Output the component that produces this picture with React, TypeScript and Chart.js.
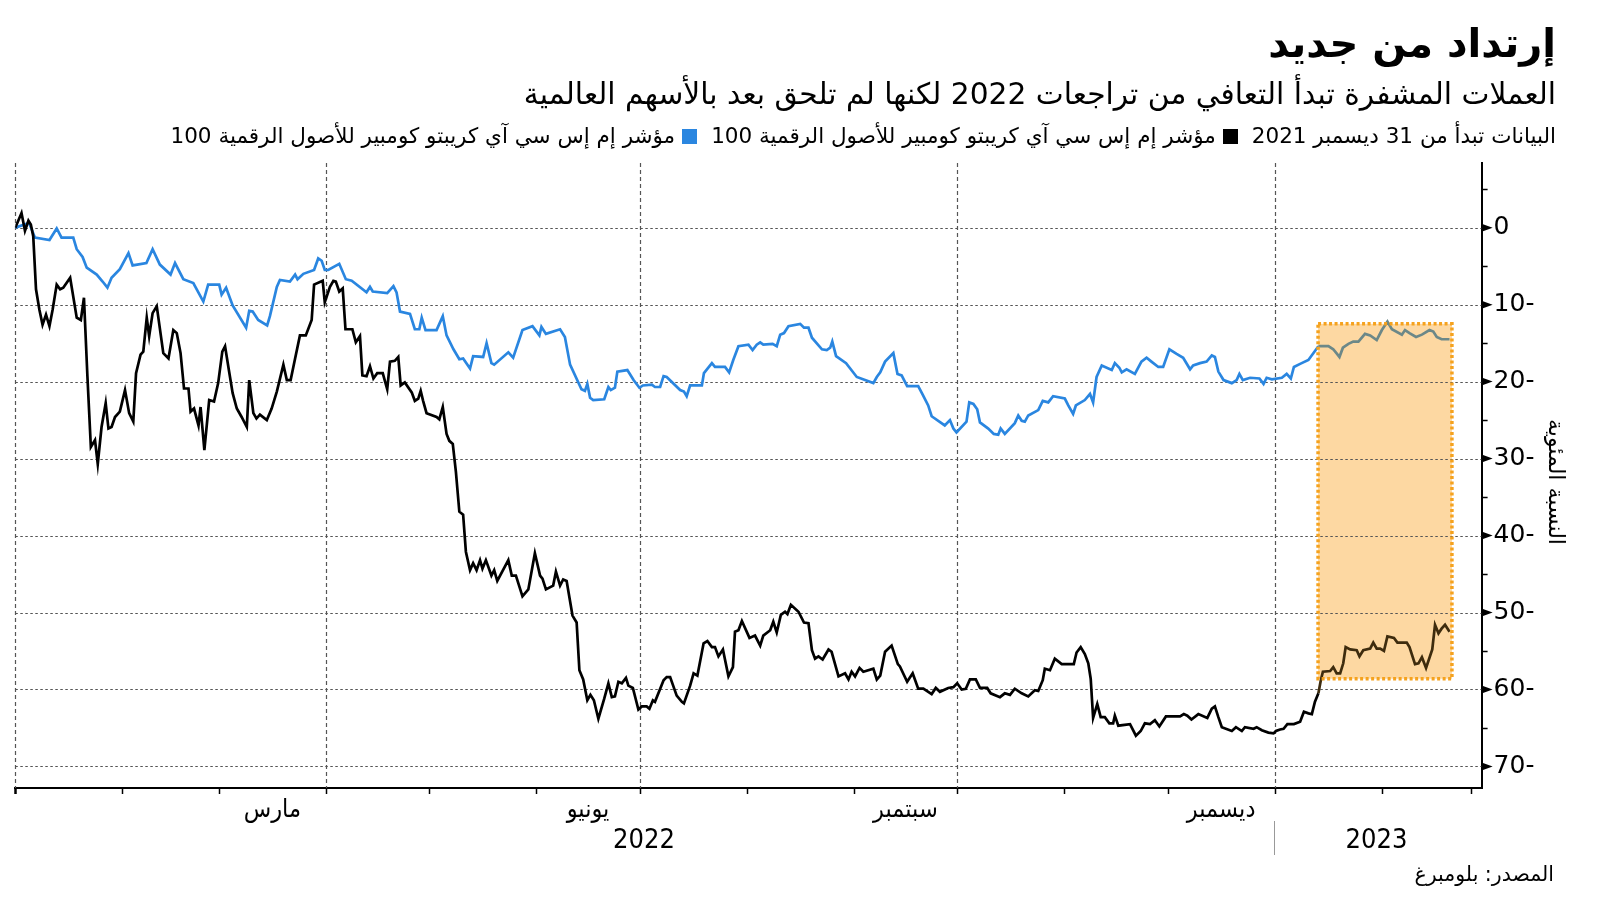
import React, { useEffect, useRef } from "react";
import { Chart, registerables } from "chart.js";

Chart.register(...registerables);

// Day offsets from 1 Jan 2022, value = % change since 31 Dec 2021
const cryptoIndex: [number, number][] = [
  [0, 0], [1.8, 1.9], [2.8, -0.4], [3.8, 0.9], [4.5, 0.4], [5.2, -1.1], [6, -8.0], [7, -10.7], [7.9, -12.6],
  [8.9, -11.3], [9.9, -12.8], [10.8, -10.7], [12, -7.4], [13, -8.0], [13.9, -7.8], [15.9, -6.5], [17.8, -11.7],
  [19, -12.0], [19.9, -9.1], [20.9, -19.3], [21.9, -28.5], [23.1, -27.6], [23.9, -30.7], [25, -25.9],
  [26.2, -22.8], [27, -26.1], [27.9, -25.9], [28.9, -24.6], [30.3, -23.9], [31.8, -21.1], [33, -24.1],
  [34.2, -25.2], [35, -18.9], [36.3, -16.5], [37.1, -16.1], [38.1, -11.7], [38.8, -14.1], [39.8, -11.1],
  [41, -10.2], [42.9, -16.3], [44.4, -17.0], [45.8, -13.3], [46.8, -13.7], [47.9, -16.3], [48.9, -20.9],
  [50.2, -20.9], [50.8, -23.9], [51.8, -23.5], [53.1, -25.7], [53.7, -23.3], [54.8, -28.9], [56.2, -22.4],
  [57.6, -22.6], [58.8, -20.2], [60, -16.1], [60.8, -15.4], [61.9, -18.5], [63, -21.5], [64.2, -23.5],
  [65.6, -24.6], [67.1, -25.9], [67.8, -19.8], [69, -24.1], [69.9, -24.8], [70.9, -24.3], [72.9, -25.0],
  [74.3, -23.5], [75.8, -21.3], [77.7, -17.8], [78.7, -19.8], [79.8, -19.8], [81.1, -17.0], [82.5, -14.0],
  [84.2, -14.0], [85.9, -12.0], [86.6, -7.4], [89.1, -6.9], [89.7, -9.7], [91.2, -7.7], [92.2, -6.9],
  [92.9, -7.0], [93.9, -8.3], [94.9, -7.9], [95.7, -13.2], [97.7, -13.2], [98.7, -14.9], [99.9, -14.1],
  [100.6, -19.2], [101.8, -19.3], [102.8, -18.0], [103.8, -19.6], [104.9, -18.9], [106.5, -18.9],
  [107.8, -21.0], [108.6, -17.4], [110, -17.3], [111, -16.8], [111.7, -20.5], [112.9, -20.1], [114.9, -21.4],
  [115.8, -22.5], [116.8, -22.2], [117.5, -21.2], [118.2, -22.5], [119.2, -24.1], [122.1, -24.6],
  [122.9, -24.9], [123.9, -23.3], [125, -26.8], [125.8, -27.7], [126.8, -28.1], [127.7, -31.7],
  [128.7, -36.9], [129.8, -37.3], [130.6, -42.1], [131.8, -44.5], [132.7, -43.6], [133.7, -44.5],
  [134.7, -43.2], [135.4, -44.3], [136.4, -43.2], [138, -45.2], [138.8, -44.5], [139.7, -45.9],
  [142.9, -43.2], [143.9, -45.2], [145.1, -45.2], [147, -47.9], [148.7, -47.0], [150.6, -42.3],
  [152.1, -45.2], [152.8, -45.6], [153.8, -47.0], [155.9, -46.5], [156.7, -44.7], [157.9, -46.5],
  [158.8, -45.7], [159.8, -45.9], [161.5, -50.4], [162.7, -51.3], [163.5, -57.5], [164.6, -58.7],
  [165.8, -61.4], [166.7, -60.7], [167.7, -61.4], [169, -63.8], [170.7, -61.2], [171.9, -59.2],
  [172.9, -61.0], [173.8, -60.9], [174.8, -59.0], [175.8, -59.2], [177, -58.5], [177.7, -59.5], [179, -59.8],
  [180.6, -62.6], [181.6, -62.2], [183, -62.2], [183.8, -62.5], [184.8, -61.4], [185.4, -61.6],
  [187.9, -58.8], [188.8, -58.4], [189.8, -58.4], [191.7, -60.8], [193.2, -61.6], [193.8, -61.8],
  [195.6, -59.5], [196.6, -57.9], [197.7, -58.2], [199.5, -54.0], [200.6, -53.7], [201.9, -54.5],
  [202.8, -54.5], [203.8, -55.7], [205.1, -54.8], [206.7, -58.3], [208, -57.1], [208.6, -52.5],
  [209.6, -52.3], [210.6, -51.1], [212.8, -53.3], [214.4, -53.0], [215.9, -54.3], [216.8, -53.0],
  [218.8, -52.3], [219.7, -51.2], [220.7, -52.6], [221.9, -50.3], [223.1, -49.9], [223.8, -50.2],
  [224.8, -49.0], [227, -49.9], [228.6, -51.3], [229.9, -51.4], [230.9, -54.9], [231.8, -56.0],
  [232.8, -55.7], [234, -56.1], [235.7, -54.8], [236.6, -55.1], [238.6, -58.3], [240.5, -57.9],
  [241.5, -58.7], [242.4, -57.7], [243.4, -58.3], [244.7, -57.2], [245.8, -57.7], [248.7, -57.3],
  [249.7, -58.7], [250.7, -58.2], [252.1, -55.1], [254, -54.3], [255.8, -56.7], [256.4, -57.0],
  [258.5, -59.0], [260.1, -57.9], [261.7, -59.9], [263.2, -59.9], [265.6, -60.6], [266.8, -59.8],
  [268, -60.3], [270.4, -59.8], [271.9, -59.7], [273, -59.2], [274.3, -60.0], [275.5, -59.9], [276.7, -58.7],
  [278.4, -58.7], [279.6, -59.8], [281.7, -59.8], [282.7, -60.5], [285.4, -61.0], [286.8, -60.5],
  [288.3, -60.7], [289.7, -59.9], [291.7, -60.5], [293.6, -60.9], [295.5, -60.1], [296.5, -60.2],
  [297.8, -58.8], [298.4, -57.3], [299.9, -57.5], [301.3, -56.0], [303.3, -56.7], [306.8, -56.7],
  [307.6, -55.2], [308.8, -54.5], [310, -55.4], [311, -56.6], [311.7, -58.6], [312.4, -63.7], [313.6, -61.9],
  [314.6, -63.6], [315.8, -63.6], [317.1, -64.4], [318.2, -64.4], [318.7, -63.4], [319.7, -64.7],
  [323.1, -64.5], [324.8, -66.0], [326.2, -65.4], [327.4, -64.4], [328.9, -64.5], [330.3, -64.0],
  [331.6, -64.8], [333.5, -63.5], [337.6, -63.5], [338.7, -63.2], [339.7, -63.4], [340.9, -63.9],
  [342.9, -63.2], [345.5, -63.7], [346.8, -62.5], [347.7, -62.2], [348.7, -63.6], [349.7, -64.9],
  [352.6, -65.4], [353.8, -64.9], [355.5, -65.4], [356.4, -64.9], [358.9, -65.1], [359.8, -64.9],
  [361.3, -65.3], [363.2, -65.6], [364.7, -65.7], [365.4, -65.4], [366.6, -65.2], [367.6, -65.1],
  [368.7, -64.5], [370.6, -64.5], [372.4, -64.2], [373.5, -62.9], [374.8, -63.1], [375.8, -63.2],
  [376.7, -61.6], [377.7, -60.5], [378.4, -58.8], [379, -57.7], [381.1, -57.6], [382, -57.1], [383, -57.9],
  [384, -57.9], [384.9, -56.6], [385.6, -54.5], [386.9, -54.8], [388.8, -54.9], [389.6, -55.7],
  [390.7, -54.9], [392.7, -54.7], [393.6, -53.9], [394.6, -54.7], [395.6, -54.7], [396.7, -55.0],
  [397.7, -53.1], [399.6, -53.3], [400.6, -53.9], [403.3, -53.9], [404.1, -54.5], [405.7, -56.7],
  [406.7, -56.6], [407.7, -55.8], [408.9, -57.2], [410.7, -54.8], [411.5, -51.6], [412.5, -52.7],
  [413.4, -52.1], [414.4, -51.6], [415.7, -52.5],
];

const globalIndex: [number, number][] = [
  [0, 0], [4, 0.6], [5.7, -1.3], [9.9, -1.6], [12, -0.1], [13.4, -1.3], [16.8, -1.3], [17.8, -2.8],
  [19.5, -3.8], [20.7, -5.2], [23.6, -6.1], [25.3, -7.0], [26.7, -7.8], [27.9, -6.5], [30.3, -5.4],
  [32.8, -3.3], [34, -4.9], [38, -4.6], [39.8, -2.8], [41.9, -4.8], [45, -6.1], [46.3, -4.6], [48.7, -6.7],
  [51.6, -7.2], [54.5, -9.6], [55.9, -7.4], [59.1, -7.4], [59.8, -8.7], [61.1, -7.8], [63, -10.1],
  [66.9, -13.0], [67.8, -10.8], [68.8, -10.9], [70.4, -12.0], [73, -12.7], [73.8, -11.5], [75.8, -7.7],
  [76.7, -6.8], [79.6, -7.0], [81.1, -6.1], [81.8, -6.7], [83.5, -6.0], [86.6, -5.5], [87.8, -4.0],
  [88.8, -4.3], [89.7, -5.5], [90.7, -5.5], [93.9, -4.7], [95.8, -6.7], [97.5, -6.9], [101.8, -8.4],
  [102.8, -7.7], [103.6, -8.3], [107.8, -8.5], [109.6, -7.6], [110.5, -8.4], [111.5, -10.9], [114.4, -11.2],
  [115.8, -13.2], [117.1, -13.2], [117.8, -11.7], [118.9, -13.3], [122.1, -13.3], [123.9, -11.5],
  [125, -14.0], [127, -15.8], [128.7, -17.1], [129.8, -17.0], [131.8, -18.3], [132.7, -16.7],
  [135.6, -16.8], [136.6, -15.0], [138, -17.6], [138.8, -17.8], [142.9, -16.2], [144.3, -16.9],
  [147, -13.3], [149.9, -12.8], [151.9, -14.0], [152.5, -12.9], [153.8, -13.8], [157.9, -13.2],
  [159.3, -14.2], [160.8, -17.8], [164.1, -21.0], [165.1, -21.2], [165.8, -20.3], [166.6, -22.1],
  [167.5, -22.4], [170.7, -22.3], [171.9, -20.7], [172.6, -21.1], [173.8, -20.8], [174.5, -18.7],
  [177.4, -18.5], [179.2, -19.8], [180.9, -20.8], [181.9, -20.5], [184.5, -20.4], [185.4, -20.7],
  [186.9, -20.7], [187.9, -19.3], [188.8, -19.4], [192.7, -21.1], [193.8, -21.3], [194.6, -21.9],
  [195.6, -20.5], [199, -20.5], [199.6, -18.9], [201.9, -17.6], [202.8, -18.1], [205.7, -18.1],
  [206.9, -18.8], [208.1, -17.2], [209.6, -15.4], [212.5, -15.2], [213.7, -15.9], [214.9, -15.2],
  [215.9, -14.9], [216.8, -15.2], [219.5, -15.1], [220.7, -15.4], [221.7, -13.9], [222.8, -13.7],
  [224.1, -12.8], [227.5, -12.5], [228.6, -13.0], [229.9, -13.0], [230.9, -14.3], [233.8, -15.8],
  [235.2, -15.9], [236.2, -15.6], [236.8, -14.8], [237.9, -16.7], [240.8, -17.6], [243.9, -19.4],
  [248.7, -20.2], [249.7, -19.4], [250.7, -18.8], [252.1, -17.4], [254.5, -16.3], [255.7, -19.0],
  [256.9, -19.2], [258.5, -20.6], [261.7, -20.6], [263, -21.7], [264.6, -23.1], [265.6, -24.5],
  [269.4, -25.7], [270.9, -25.0], [271.9, -26.1], [272.8, -26.6], [275.7, -25.2], [276.5, -22.7],
  [277.7, -22.9], [278.8, -23.6], [279.6, -25.3], [282, -26.1], [283.6, -26.8], [284.9, -26.9],
  [285.6, -26.1], [286.8, -26.8], [289.7, -25.4], [290.7, -24.4], [291.7, -25.1], [292.6, -25.2],
  [293.6, -24.4], [296.5, -23.7], [297.8, -22.5], [299.4, -22.7], [300.8, -21.9], [304.2, -22.2],
  [305.2, -23.1], [306.6, -24.2], [307.4, -23.1], [310, -22.4], [311.5, -21.6], [312.4, -22.7],
  [313.4, -19.4], [314.9, -17.9], [317.8, -18.5], [318.7, -17.6], [320, -18.2], [320.7, -18.8],
  [322.1, -18.4], [324.5, -19.0], [326.4, -17.4], [327.9, -16.9], [329.3, -17.4], [331.3, -18.1],
  [332.7, -18.1], [334.5, -15.8], [336.6, -16.4], [338.5, -16.9], [340.5, -18.4], [341.4, -17.9],
  [343.4, -17.6], [345.3, -17.4], [346.8, -16.6], [347.7, -16.8], [348.7, -18.7], [350.2, -19.8],
  [352.6, -20.2], [354, -19.8], [354.8, -19.0], [355.8, -19.8], [357.9, -19.5], [360.6, -19.6],
  [361.8, -20.3], [362.7, -19.5], [364.2, -19.7], [367.1, -19.5], [368.5, -19.0], [369.7, -19.6],
  [370.6, -18.1], [372.4, -17.7], [374.8, -17.2], [377.7, -15.4], [380.6, -15.4], [382, -15.8],
  [383.8, -16.8], [384.8, -15.6], [386.4, -15.1], [387.8, -14.8], [389.3, -14.8], [391.2, -13.8],
  [392.7, -14.0], [394.6, -14.6], [396.1, -13.3], [397.7, -12.2], [399, -13.2], [401.9, -13.9],
  [402.8, -13.3], [404.1, -13.7], [406, -14.2], [407.7, -13.9], [409.9, -13.3], [411, -13.5],
  [412, -14.2], [413.4, -14.5], [415.7, -14.5],
];

const yTickValues = [0, -10, -20, -30, -40, -50, -60, -70];
const yMinorValues = [5, -5, -15, -25, -35, -45, -55, -65];
const monthTickDays = [0, 31, 59, 90, 120, 151, 181, 212, 243, 273, 304, 334, 365, 396, 422];
const quarterDays = [0, 90, 181, 273, 365];
const monthLabelText = ["مارس", "يونيو", "سبتمبر", "ديسمبر"];
const monthLabelDays = [74.5, 166, 258, 349.5];

// highlighted window (Jan – Feb 2023)
const highlightStartDay = 377.6;
const highlightEndDay = 416.4;
const highlightTop = -12.5;
const highlightBottom = -58.6;

const AR_FONT = '"DejaVu Sans", sans-serif';
const AR_COND = '"DejaVu Sans Condensed", "DejaVu Sans", sans-serif';

const decorPlugin = {
  id: "decor",
  beforeDatasetsDraw(chart: any) {
    const { ctx, chartArea: a, scales } = chart;
    const x = scales.x;
    const y = scales.y;
    ctx.save();
    const bx1 = x.getPixelForValue(highlightStartDay);
    const bx2 = x.getPixelForValue(highlightEndDay);
    const by1 = y.getPixelForValue(highlightTop);
    const by2 = y.getPixelForValue(highlightBottom);
    ctx.fillStyle = "#FDD8A2";
    ctx.fillRect(bx1, by1, bx2 - bx1, by2 - by1);

    ctx.strokeStyle = "#555";
    ctx.lineWidth = 1.2;
    ctx.setLineDash([2.5, 2.5]);
    for (const v of yTickValues) {
      const py = Math.round(y.getPixelForValue(v)) + 0.5;
      ctx.beginPath();
      ctx.moveTo(a.left, py);
      ctx.lineTo(a.right, py);
      ctx.stroke();
    }
    ctx.setLineDash([4, 3]);
    for (const d of quarterDays) {
      const px = Math.round(x.getPixelForValue(d)) + 0.5;
      ctx.beginPath();
      ctx.moveTo(px, a.top);
      ctx.lineTo(px, a.bottom);
      ctx.stroke();
    }
    ctx.restore();
  },
  afterDatasetsDraw(chart: any) {
    const { ctx, scales } = chart;
    const x = scales.x;
    const y = scales.y;
    const bx1 = x.getPixelForValue(highlightStartDay);
    const bx2 = x.getPixelForValue(highlightEndDay);
    const by1 = y.getPixelForValue(highlightTop);
    const by2 = y.getPixelForValue(highlightBottom);
    ctx.save();
    ctx.strokeStyle = "#F5A21E";
    ctx.lineWidth = 3.5;
    ctx.setLineDash([3, 2.5]);
    ctx.strokeRect(bx1, by1, bx2 - bx1, by2 - by1);
    ctx.restore();
  },
  afterDraw(chart: any) {
    const { ctx, chartArea: a, scales } = chart;
    const x = scales.x;
    const y = scales.y;
    ctx.save();
    ctx.fillStyle = "#000";
    ctx.strokeStyle = "#000";
    const ax = a.right;
    for (const v of yTickValues) {
      const py = y.getPixelForValue(v);
      ctx.beginPath();
      ctx.moveTo(ax, py - 4);
      ctx.lineTo(ax + 11, py);
      ctx.lineTo(ax, py + 4);
      ctx.closePath();
      ctx.fill();
    }
    ctx.lineWidth = 1.5;
    for (const v of yMinorValues) {
      const py = Math.round(y.getPixelForValue(v)) + 0.5;
      ctx.beginPath();
      ctx.moveTo(ax, py);
      ctx.lineTo(ax + 6, py);
      ctx.stroke();
    }
    for (const d of monthTickDays) {
      const px = Math.round(x.getPixelForValue(d)) + 0.5;
      ctx.lineWidth = d === 0 ? 2.5 : 1.5;
      ctx.beginPath();
      ctx.moveTo(px, a.bottom);
      ctx.lineTo(px, a.bottom + 6);
      ctx.stroke();
    }
    ctx.font = `25px ${AR_COND}`;
    ctx.textAlign = "center";
    ctx.textBaseline = "middle";
    (ctx as any).direction = "rtl";
    monthLabelText.forEach((t, i) => {
      ctx.fillText(t, x.getPixelForValue(monthLabelDays[i]), a.bottom + 22);
    });
    ctx.restore();
  },
};

const BLUE = "#2A86E0";
const BLUE_IN = "#6C8888";
const BLACK = "#000000";
const BLACK_IN = "#3E2C0E";

export default function App() {
  const ref = useRef<HTMLCanvasElement | null>(null);

  useEffect(() => {
    if (!ref.current) return;
    const inside = (c: any) => c.p0.parsed.x >= highlightStartDay;
    const chart = new Chart(ref.current, {
      type: "line",
      data: {
        datasets: [
          {
            label: "crypto",
            data: cryptoIndex.map(([d, v]) => ({ x: d, y: v })),
            borderColor: BLACK,
            borderWidth: 2.7,
            pointRadius: 0,
            tension: 0,
            segment: { borderColor: (c: any) => (inside(c) ? BLACK_IN : BLACK) },
          },
          {
            label: "global",
            data: globalIndex.map(([d, v]) => ({ x: d, y: v })),
            borderColor: BLUE,
            borderWidth: 2.7,
            pointRadius: 0,
            tension: 0,
            segment: { borderColor: (c: any) => (inside(c) ? BLUE_IN : BLUE) },
          },
        ],
      },
      options: {
        animation: false,
        responsive: false,
        devicePixelRatio: 1,
        layout: { padding: { left: 15.3, top: 163, right: 0, bottom: 0 } },
        plugins: { legend: { display: false }, tooltip: { enabled: false } },
        scales: {
          x: {
            type: "linear",
            min: 0,
            max: 425,
            ticks: { display: false },
            grid: { display: false, drawTicks: false },
            border: { display: true, color: "#000", width: 2 },
            afterFit: (s: any) => {
              s.height = 113;
            },
          },
          y: {
            type: "linear",
            position: "right",
            min: -72.8,
            max: 8.4,
            afterBuildTicks: (s: any) => {
              s.ticks = yTickValues.map((v) => ({ value: v }));
            },
            ticks: {
              callback: (v: any) => (Number(v) === 0 ? "0" : `${Math.abs(Number(v))}-`),
              font: { family: "DejaVu Sans", size: 25 },
              color: "#000",
              padding: 12,
              autoSkip: false,
            },
            grid: { display: false, drawTicks: false },
            border: { display: true, color: "#000", width: 2 },
            afterFit: (s: any) => {
              s.width = 118.4;
            },
          },
        },
      },
      plugins: [decorPlugin],
    });
    return () => chart.destroy();
  }, []);

  const abs: React.CSSProperties = { position: "absolute", whiteSpace: "nowrap", color: "#000", fontFamily: AR_FONT };
  const sq = (c: string): React.CSSProperties => ({
    display: "inline-block",
    width: 15,
    height: 15,
    background: c,
    margin: "0 14px 0 7px",
    verticalAlign: "-1px",
  });

  return (
    <div style={{ position: "fixed", left: 0, top: 0, width: 1600, height: 901, background: "#fff", overflow: "hidden" }}>
      <canvas ref={ref} width={1600} height={901} style={{ position: "absolute", left: 0, top: 0, width: 1600, height: 901 }} />
      <div dir="rtl" style={{ ...abs, right: 44, top: 18, fontSize: 40, fontWeight: 700, lineHeight: "50px" }}>
        إرتداد من جديد
      </div>
      <div dir="rtl" style={{ ...abs, right: 44, top: 76, fontSize: 29.7, lineHeight: "36px" }}>
        العملات المشفرة تبدأ التعافي من تراجعات 2022 لكنها لم تلحق بعد بالأسهم العالمية
      </div>
      <div dir="rtl" style={{ ...abs, right: 44, top: 123, fontSize: 21.5, lineHeight: "26px" }}>
        البيانات تبدأ من 31 ديسمبر 2021
        <span style={sq("#000")} />
        مؤشر إم إس سي آي كريبتو كومبير للأصول الرقمية 100
        <span style={sq(BLUE)} />
        مؤشر إم إس سي آي كريبتو كومبير للأصول الرقمية 100
      </div>
      <div
        dir="rtl"
        style={{ ...abs, left: 1556, top: 482, fontSize: 22, lineHeight: "26px", transform: "translate(-50%, -50%) rotate(90deg)" }}
      >
        النسبة المئوية
      </div>
      <div style={{ ...abs, fontFamily: AR_COND, left: 644, top: 839, fontSize: 27, lineHeight: "30px", transform: "translate(-50%, -50%)" }}>2022</div>
      <div style={{ ...abs, fontFamily: AR_COND, left: 1376.5, top: 839, fontSize: 27, lineHeight: "30px", transform: "translate(-50%, -50%)" }}>2023</div>
      <div style={{ position: "absolute", left: 1274, top: 821, width: 1, height: 34, background: "#999" }} />
      <div dir="rtl" style={{ ...abs, right: 46, top: 861, fontSize: 20.5, lineHeight: "26px" }}>
        المصدر: بلومبرغ
      </div>
    </div>
  );
}
